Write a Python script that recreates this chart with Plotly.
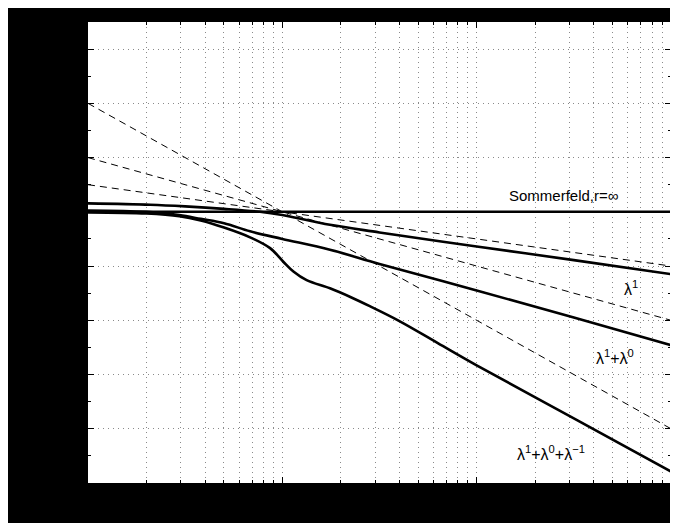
import plotly.graph_objects as go

# x positions given as log10(x); x axis is logarithmic from 0.1 to 100
x_range_log = [-1, 2]

# Solid curves (log10 x, value)
lam1_lx = [-1, -0.68, -0.5, -0.3, -0.115, 0, 0.245, 0.5, 1.0, 1.5, 2.0]
lam1_y = [1.55, 1.3, 1.0, 0.55, 0.0, -0.6, -2.4, -3.8, -6.4, -8.9, -11.5]

lam10_lx = [-1, -0.7, -0.53, -0.42, -0.3, -0.166, 0, 0.245, 0.5, 1.0, 1.5, 2.0]
lam10_y = [0.25, 0.0, -0.6, -1.3, -2.1, -3.6, -5.0, -7.0, -9.6, -14.5, -19.5, -24.6]

lam10m1_lx = [-1, -0.7, -0.53, -0.42, -0.3, -0.166, -0.063, 0.005, 0.057, 0.125, 0.245,
              0.35, 0.45, 0.6, 0.8, 1.0, 1.5, 2.0]
lam10m1_y = [-0.1, -0.3, -0.8, -1.6, -2.9, -4.7, -6.7, -9.2, -11.0, -12.6, -14.1,
             -15.7, -17.4, -20.1, -24.2, -28.3, -38.1, -47.9]

sommerfeld_lx = [-1, 2]
sommerfeld_y = [0, 0]

# Dashed asymptotes: values at the two ends of the x range
asym_lx = [-1, 2]
asym_a_y = [5, -10]
asym_b_y = [10, -20]
asym_c_y = [20, -40]

y_range = [-50, 35]

labels = ["Sommerfeld,r=∞", "λ<sup>1</sup>", "λ<sup>1</sup>+λ<sup>0</sup>",
          "λ<sup>1</sup>+λ<sup>0</sup>+λ<sup>−1</sup>"]
label_lx = [1.447, 1.794, 1.712, 1.383]
label_y = [3.1, -14.0, -26.7, -44.4]
label_size = [15, 16, 16, 16]


def xs(lx):
    return [10 ** v for v in lx]


fig = go.Figure()
for yv in (asym_a_y, asym_b_y, asym_c_y):
    fig.add_trace(go.Scatter(x=xs(asym_lx), y=yv, mode="lines",
                             line=dict(color="black", width=1, dash="7px,5px"),
                             showlegend=False, hoverinfo="skip"))
fig.add_trace(go.Scatter(x=xs(sommerfeld_lx), y=sommerfeld_y, mode="lines",
                         line=dict(color="black", width=2.6), showlegend=False))
for lx, yv in ((lam1_lx, lam1_y), (lam10_lx, lam10_y), (lam10m1_lx, lam10m1_y)):
    fig.add_trace(go.Scatter(x=xs(lx), y=yv, mode="lines",
                             line=dict(color="black", width=2.6, shape="spline", smoothing=1.0),
                             showlegend=False))

for t, lx, yv, sz in zip(labels, label_lx, label_y, label_size):
    fig.add_annotation(x=lx, y=yv, xref="x", yref="y", text=t, showarrow=False,
                       font=dict(family="Liberation Sans, Arial, sans-serif", size=sz, color="black"))

grid = dict(gridcolor="#8a8a8a", griddash="1px,4px", gridwidth=1)

fig.update_xaxes(type="log", range=x_range_log, dtick=1, showticklabels=False,
                 showgrid=True, **grid, ticks="inside", ticklen=6, tickcolor="black",
                 showline=True, linecolor="black", linewidth=1, mirror="ticks",
                 zeroline=False,
                 minor=dict(dtick="D1", showgrid=True, gridcolor="#8a8a8a",
                            griddash="1px,4px", ticks="inside", ticklen=3, tickcolor="black"))
fig.update_yaxes(range=y_range, dtick=10, tick0=0, showticklabels=False,
                 showgrid=True, **grid, ticks="inside", ticklen=6, tickcolor="black",
                 showline=True, linecolor="black", linewidth=1, mirror="ticks",
                 zeroline=False,
                 minor=dict(dtick=5, tick0=0, showgrid=False, ticks="inside", ticklen=3,
                            tickcolor="black"))

fig.update_layout(width=670, height=515, margin=dict(l=80, r=7, t=14, b=40),
                  paper_bgcolor="black", plot_bgcolor="white", showlegend=False)

fig.write_html("out.html")
